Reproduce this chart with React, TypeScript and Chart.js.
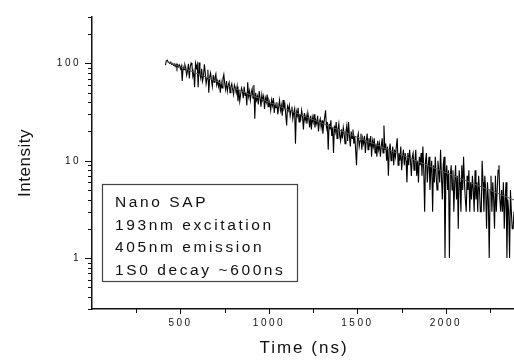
import { useEffect, useRef } from 'react';
import { Chart, registerables } from 'chart.js';

Chart.register(...registerables);

// Sampling of the decay trace (ns)
const TIME_START_NS = 415;
const TIME_STEP_NS = 5;

// Measured intensity (counts), one value per sample
const INTENSITY = [
  96, 106, 108, 104, 102, 100, 103, 98, 100, 96, 99, 93, 98, 90, 97, 92, 96, 88, 94, 66,
  92, 86, 97, 90, 76, 84, 99, 70, 92, 101, 96, 74, 82, 57, 100, 90, 98, 57, 102, 78,
  70, 88, 66, 74, 98, 80, 62, 70, 86, 50, 72, 80, 68, 58, 76, 64, 72, 78, 60, 66,
  58, 68, 50, 64, 56, 70, 77, 62, 54, 66, 52, 60, 64, 50, 58, 62, 54, 48, 60, 56,
  50, 58, 41, 54, 41, 48, 56, 52, 44, 58, 47, 50, 37, 64, 46, 52, 42, 50, 55, 44,
  60, 27, 50, 42, 46, 38, 52, 44, 36, 48, 42, 46, 34, 44, 40, 48, 36, 42, 39, 33,
  42, 37, 44, 31, 38, 35, 40, 30, 36, 42, 33, 37, 29, 42, 35, 38, 30, 23, 36, 33,
  37, 29, 33, 36, 27, 31, 34, 15, 32, 29, 35, 25, 30, 27, 33, 28, 21, 31, 26, 29,
  24, 31, 27, 22, 29, 21, 28, 25, 30, 22, 26, 24, 29, 20, 25, 27, 22, 26, 19, 24,
  28, 33, 22, 25, 13, 24, 21, 26, 18, 22, 12, 23, 20, 25, 17, 21, 24, 18, 16, 21,
  17, 22, 19, 15, 20, 23, 16, 25, 18, 14, 20, 17, 21, 15, 18, 13, 9, 17, 19, 14,
  16, 19, 13, 17, 15, 18, 12, 16, 19, 13, 17, 14, 18, 11, 16, 14, 17, 12, 15, 11,
  16, 13, 15, 11, 14, 17, 12, 23, 13, 15, 10, 14, 7, 13, 15, 10, 12, 14, 9, 13,
  11, 14, 17, 9, 12, 10, 14, 8, 11, 13, 9, 12, 10, 6, 12, 9, 13, 10, 7, 11,
  12, 8, 10, 13, 7, 10, 6, 11, 9, 12, 7, 14, 8, 3, 10, 12, 6, 9, 11, 5,
  8, 10, 3, 9, 6, 11, 7, 5, 10, 8, 6, 13, 7, 4, 9, 11, 1, 7, 9, 5,
  8, 1, 7, 9, 5, 8, 3, 6, 9, 4, 7, 2, 8, 6, 3, 9, 5, 11, 6, 4,
  3, 7, 5, 8, 3, 6, 4, 7, 5, 3, 8, 4, 6, 3, 7, 5, 3, 3, 10, 6,
  3, 7, 5, 2, 6, 4, 1, 5, 7, 3, 6, 4, 2, 7, 3, 5, 8, 9, 4, 3,
  5, 3, 6, 2, 4, 6, 1, 4, 3, 1, 5, 3, 2, 2, 3,
];

// Exponential fit
const FIT_TIME = [416, 782, 1176, 1571, 1966, 2385];
const FIT_INTENSITY = [106, 57.6, 29.9, 15.5, 8.0, 3.96];

// Axes
const X_MIN = 0;
const X_MAX = 2385;
const Y_MIN = 0.3;
const Y_MAX = 300;
const X_TICKS = [500, 1000, 1500, 2000];
const X_MINOR_TICKS = [250, 750, 1250, 1750, 2250];
const Y_TICKS = [1, 10, 100];
const Y_MINOR_TICKS = [0.3, 0.4, 0.5, 0.6, 0.7, 0.8, 0.9, 2, 3, 4, 5, 6, 7, 8, 9, 20, 30, 40, 50, 60, 70, 80, 90, 200, 300];

const X_TITLE = 'Time (ns)';
const Y_TITLE = 'Intensity';
const NOTE_LINES = ['Nano SAP', '193nm excitation', '405nm emission', '1S0 decay ~600ns'];

const FONT = '"Liberation Sans", Arial, Helvetica, sans-serif';

const decorPlugin = {
  id: 'decor',
  beforeDraw(chart: any) {
    (chart.ctx as any).letterSpacing = '2.5px';
  },
  afterDraw(chart: any) {
    const ctx = chart.ctx as CanvasRenderingContext2D & { letterSpacing: string };
    const xs = chart.scales.x;
    const ys = chart.scales.y;
    const area = chart.chartArea;
    ctx.save();
    ctx.strokeStyle = '#111';
    ctx.lineWidth = 1;
    // y ticks (outward, left)
    ctx.beginPath();
    for (const v of Y_TICKS) {
      const y = Math.round(ys.getPixelForValue(v)) + 0.5;
      ctx.moveTo(area.left - 7, y);
      ctx.lineTo(area.left, y);
    }
    for (const v of Y_MINOR_TICKS) {
      const y = Math.round(ys.getPixelForValue(v)) + 0.5;
      ctx.moveTo(area.left - 4, y);
      ctx.lineTo(area.left, y);
    }
    // x ticks (outward, down)
    for (const v of X_TICKS) {
      const x = Math.round(xs.getPixelForValue(v)) + 0.5;
      ctx.moveTo(x, area.bottom);
      ctx.lineTo(x, area.bottom + 5);
    }
    for (const v of X_MINOR_TICKS) {
      const x = Math.round(xs.getPixelForValue(v)) + 0.5;
      ctx.moveTo(x, area.bottom);
      ctx.lineTo(x, area.bottom + 4);
    }
    ctx.stroke();

    ctx.fillStyle = '#111';
    // x title
    ctx.font = `17px ${FONT}`;
    ctx.letterSpacing = '2px';
    ctx.textAlign = 'left';
    ctx.textBaseline = 'alphabetic';
    const w = ctx.measureText(X_TITLE).width - 2;
    ctx.fillText(X_TITLE, (area.left + area.right) / 2 - w / 2, 352.5);
    // y title
    ctx.save();
    ctx.letterSpacing = '0.5px';
    ctx.font = `17px ${FONT}`;
    ctx.translate(29.5, (area.top + area.bottom) / 2);
    ctx.rotate(-Math.PI / 2);
    ctx.textAlign = 'center';
    ctx.fillText(Y_TITLE, 0, 0);
    ctx.restore();

    // note box
    const bx = area.left + 10.5;
    const by = 184.5;
    const bw = 195;
    const bh = 97;
    ctx.fillStyle = '#fff';
    ctx.fillRect(bx, by, bw, bh);
    ctx.strokeStyle = '#444';
    ctx.lineWidth = 1.2;
    ctx.strokeRect(bx, by, bw, bh);
    ctx.fillStyle = '#111';
    ctx.font = `15.5px ${FONT}`;
    ctx.letterSpacing = '2.6px';
    ctx.textAlign = 'left';
    NOTE_LINES.forEach((line, i) => {
      ctx.fillText(line, bx + 12.5, by + 22.2 + i * 22.8);
    });
    ctx.restore();
  },
};

export default function App() {
  const ref = useRef<HTMLCanvasElement | null>(null);
  useEffect(() => {
    if (!ref.current) return;
    const points = INTENSITY.map((v, i) => ({ x: TIME_START_NS + i * TIME_STEP_NS, y: v }));
    const fit = FIT_TIME.map((t, i) => ({ x: t, y: FIT_INTENSITY[i] }));
    const chart = new Chart(ref.current, {
      type: 'line',
      data: {
        datasets: [
          {
            label: 'fit',
            data: fit,
            borderColor: '#5a5a5a',
            borderWidth: 1,
            pointRadius: 0,
            tension: 0,
          },
          {
            label: 'data',
            data: points,
            borderColor: '#000',
            borderWidth: 1.1,
            pointRadius: 0,
            tension: 0,
          },
        ],
      },
      options: {
        animation: false,
        responsive: false,
        events: [],
        layout: { padding: { top: 13, right: 0, left: 0, bottom: 0 } },
        plugins: { legend: { display: false }, tooltip: { enabled: false } },
        scales: {
          x: {
            type: 'linear',
            min: X_MIN,
            max: X_MAX,
            grid: { display: false, drawTicks: false, tickLength: 0 },
            border: { display: true, color: '#111', width: 1.5 },
            ticks: {
              color: '#111',
              font: { family: FONT, size: 10 },
              padding: 8,
              maxRotation: 0,
              callback: (v: any) => String(v),
            },
            afterBuildTicks: (s: any) => {
              s.ticks = X_TICKS.map((v) => ({ value: v }));
            },
            afterFit: (s: any) => {
              s.height = 51;
            },
          },
          y: {
            type: 'logarithmic',
            min: Y_MIN,
            max: Y_MAX,
            grid: { display: false, drawTicks: false, tickLength: 0 },
            border: { display: true, color: '#111', width: 1.5 },
            ticks: {
              color: '#111',
              font: { family: FONT, size: 10 },
              padding: 11,
              callback: (v: any) => String(v),
            },
            afterBuildTicks: (s: any) => {
              s.ticks = Y_TICKS.map((v) => ({ value: v }));
            },
            afterFit: (s: any) => {
              s.width = 92;
            },
          },
        },
      },
      plugins: [decorPlugin],
    });
    return () => chart.destroy();
  }, []);
  return (
    <div style={{ position: 'fixed', left: 0, top: 0, width: 514, height: 360, background: '#fff' }}>
      <canvas ref={ref} width={514} height={360} style={{ display: 'block' }} />
    </div>
  );
}
